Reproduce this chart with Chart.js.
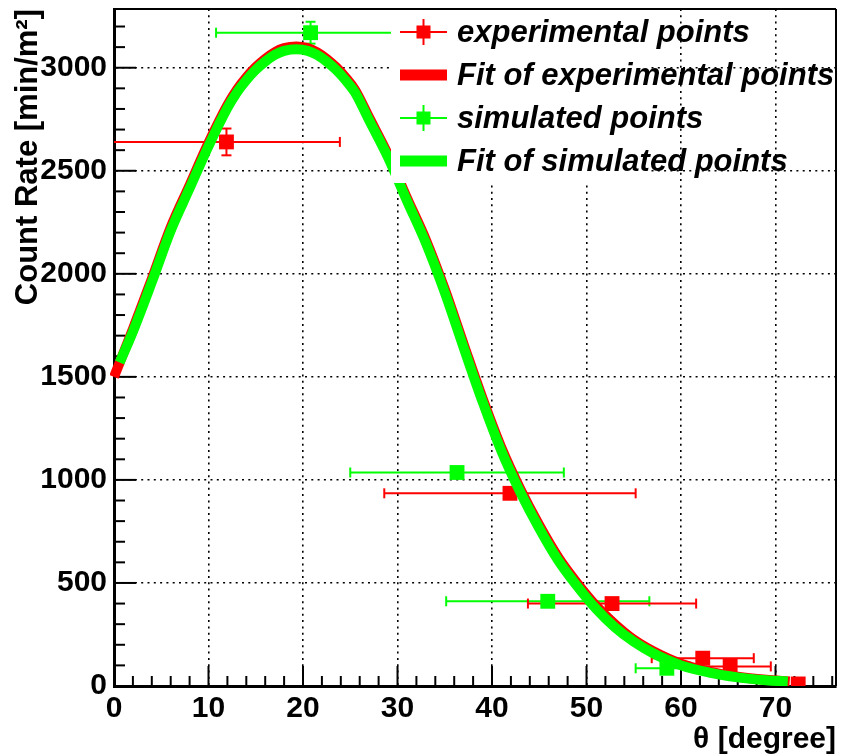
<!DOCTYPE html>
<html><head><meta charset="utf-8">
<script src="https://cdn.jsdelivr.net/npm/chart.js@4.4.1/dist/chart.umd.min.js"></script>
<style>html,body{margin:0;padding:0;background:#fff}#wrap{width:841px;height:756px;position:relative}</style>
</head><body><div id="wrap"><canvas id="c" width="841" height="756"></canvas></div>
<script>
// ---- data ----
const xTickValues = [0, 10, 20, 30, 40, 50, 60, 70];
const yTickValues = [0, 500, 1000, 1500, 2000, 2500, 3000];

const expTheta    = [11.9, 41.9, 52.7, 62.3, 65.2, 72.4];
const expRate     = [2640, 935, 400, 135, 95, 10];
const expThetaErr = [12.0, 13.3, 8.9, 5.4, 4.3, 0];
const expRateErr  = [65, 0, 0, 0, 0, 0];

const simTheta    = [20.8, 36.3, 45.9, 58.5];
const simRate     = [3170, 1036, 411, 86];
const simThetaErr = [10.0, 11.3, 10.75, 3.3];
const simRateErr  = [53, 0, 0, 25];

const expFitTheta = [0, 2, 4, 6, 8, 10, 12, 13, 14, 15, 16, 17, 18, 19.3, 20.5, 21.5, 22.5, 23.5, 24.5, 25.5, 27, 29, 31, 33, 35, 37, 39, 41, 43, 45, 47, 49, 51, 53, 55, 57, 60, 63, 66, 69, 71.5];
const expFitRate  = [1500, 1732, 1975, 2225, 2430, 2635, 2818, 2893, 2953, 3003, 3043, 3075, 3095, 3103, 3095, 3075, 3043, 3003, 2953, 2893, 2758, 2578, 2368, 2165, 1925, 1658, 1395, 1155, 955, 780, 625, 500, 390, 300, 225, 170, 108, 70, 45, 30, 22];

const simFitTheta = [0.6, 2, 4, 6, 8, 10, 12, 13, 14, 15, 16, 17, 18, 19.3, 20.5, 21.5, 22.5, 23.5, 24.5, 25.5, 27, 29, 31, 33, 35, 37, 39, 41, 43, 45, 47, 49, 51, 53, 55, 57, 60, 63, 66, 69, 71.3];
const simFitRate  = [1570, 1720, 1960, 2210, 2415, 2620, 2805, 2880, 2940, 2990, 3030, 3062, 3082, 3090, 3082, 3062, 3030, 2990, 2940, 2880, 2745, 2565, 2355, 2150, 1910, 1642, 1380, 1140, 940, 765, 610, 485, 375, 285, 215, 160, 100, 65, 42, 28, 22];

const legendLabels = ['experimental points', 'Fit of experimental points', 'simulated points', 'Fit of simulated points'];

const RED = '#ff0000', GREEN = '#00ff00';
const FONT = '"Liberation Sans", Arial, Helvetica, sans-serif';

const toXY = (xs, ys) => xs.map((x, i) => ({x, y: ys[i]}));

function line(ctx, x1, y1, x2, y2) { ctx.beginPath(); ctx.moveTo(x1, y1); ctx.lineTo(x2, y2); ctx.stroke(); }

function drawErrors(chart, xs, ys, exs, eys, color) {
  const {ctx, scales: {x, y}} = chart;
  ctx.strokeStyle = color; ctx.lineWidth = 2;
  xs.forEach((xv, i) => {
    const px = x.getPixelForValue(xv), py = y.getPixelForValue(ys[i]);
    if (exs[i] > 0) {
      const l = x.getPixelForValue(xv - exs[i]), r = x.getPixelForValue(xv + exs[i]);
      line(ctx, l, py, r, py); line(ctx, l, py - 5, l, py + 5); line(ctx, r, py - 5, r, py + 5);
    }
    if (eys[i] > 0) {
      const t = y.getPixelForValue(ys[i] + eys[i]), b = y.getPixelForValue(ys[i] - eys[i]);
      line(ctx, px, t, px, b); line(ctx, px - 5, t, px + 5, t); line(ctx, px - 5, b, px + 5, b);
    }
  });
}

function zeroPad(s) { s.paddingTop = 0; s.paddingBottom = 0; s.paddingLeft = 0; s.paddingRight = 0; }

const rootPlugin = {
  id: 'rootStyle',
  beforeDatasetsDraw(chart) {
    const {ctx, chartArea: a, scales: {x, y}} = chart;
    ctx.save();
    // inward tick marks
    ctx.strokeStyle = '#000'; ctx.lineWidth = 2;
    for (let v = 0; v <= 76; v += 2) {
      const px = x.getPixelForValue(v);
      const len = (v % 10 === 0) ? 20 : 10;
      line(ctx, px, a.bottom, px, a.bottom - len);
    }
    for (let v = 0; v <= 3200; v += 100) {
      const py = y.getPixelForValue(v);
      const len = (v % 500 === 0) ? 22 : 11;
      line(ctx, a.left, py, a.left + len, py);
    }
    // error bars
    ctx.beginPath(); ctx.rect(a.left, a.top, a.right - a.left, a.bottom - a.top); ctx.clip();
    drawErrors(chart, simTheta, simRate, simThetaErr, simRateErr, GREEN);
    drawErrors(chart, expTheta, expRate, expThetaErr, expRateErr, RED);
    ctx.restore();
  },
  afterDraw(chart) {
    const {ctx, chartArea: a} = chart;
    ctx.save();
    // frame top / right
    ctx.strokeStyle = '#000'; ctx.lineWidth = 2;
    line(ctx, a.left, a.top, a.right, a.top);
    line(ctx, a.right, a.top, a.right, a.bottom);
    // legend box (white fill, no border)
    ctx.fillStyle = '#fff';
    ctx.fillRect(391, a.top + 1, 260, 173);
    const rows = [32, 75, 118, 161];
    const x0 = 400, x1 = 447, xc = 423.5;
    // experimental points
    ctx.strokeStyle = RED; ctx.fillStyle = RED; ctx.lineWidth = 2;
    line(ctx, x0, rows[0], x1, rows[0]); line(ctx, xc, rows[0] - 13, xc, rows[0] + 13);
    ctx.fillRect(xc - 7, rows[0] - 6.5, 14, 13);
    // fit experimental
    ctx.fillRect(x0, rows[1] - 5.5, x1 - x0, 11);
    // simulated points
    ctx.strokeStyle = GREEN; ctx.fillStyle = GREEN;
    line(ctx, x0, rows[2], x1, rows[2]); line(ctx, xc, rows[2] - 13, xc, rows[2] + 13);
    ctx.fillRect(xc - 7, rows[2] - 6.5, 14, 13);
    // fit simulated
    ctx.fillRect(x0, rows[3] - 5.5, x1 - x0, 11);
    ctx.fillStyle = '#000';
    ctx.font = 'italic bold 31px ' + FONT;
    ctx.textBaseline = 'middle'; ctx.textAlign = 'left';
    legendLabels.forEach((t, i) => ctx.fillText(t, 457, rows[i] + 1));
    ctx.restore();
  }
};

const ctx = document.getElementById('c').getContext('2d');
new Chart(ctx, {
  type: 'scatter',
  data: {
    datasets: [
      { label: legendLabels[3], type: 'line', data: toXY(simFitTheta, simFitRate),
        borderColor: GREEN, borderWidth: 10, pointRadius: 0, fill: false,
        cubicInterpolationMode: 'monotone', order: 0, clip: {left: 4, top: 0, right: 0, bottom: 0} },
      { label: legendLabels[1], type: 'line', data: toXY(expFitTheta, expFitRate),
        borderColor: RED, borderWidth: 10, pointRadius: 0, fill: false,
        cubicInterpolationMode: 'monotone', order: 1, clip: {left: 4, top: 0, right: 0, bottom: 0} },
      { label: legendLabels[0], data: toXY(expTheta, expRate), pointStyle: 'rect', pointRadius: 10.5,
        backgroundColor: RED, borderWidth: 0, order: 2, clip: 0 },
      { label: legendLabels[2], data: toXY(simTheta, simRate), pointStyle: 'rect', pointRadius: 10.5,
        backgroundColor: GREEN, borderWidth: 0, order: 3, clip: 0 }
    ]
  },
  options: {
    responsive: false, animation: false, devicePixelRatio: 1,
    layout: { autoPadding: false, padding: { top: 9, right: 5, left: 0, bottom: 0 } },
    plugins: { legend: { display: false }, tooltip: { enabled: false } },
    scales: {
      x: {
        type: 'linear', min: 0, max: 76.4,
        afterBuildTicks: s => { s.ticks = xTickValues.map(v => ({value: v})); },
        afterFit: s => { s.height = 70; zeroPad(s); },
        grid: { color: c => (c.tick && c.tick.value === 0) ? 'rgba(0,0,0,0)' : '#000', lineWidth: 1.6, drawTicks: false },
        border: { display: true, color: '#000', width: 3, dash: [2, 4.3] },
        ticks: { color: '#000', font: { family: FONT, size: 30, weight: 'bold' }, padding: 5, maxRotation: 0, autoSkip: false,
                 callback: v => String(v) },
        title: { display: true, text: 'θ [degree]', align: 'end', color: '#000',
                 font: { family: FONT, size: 30, weight: 'bold', lineHeight: 1 }, padding: { top: 0, bottom: 1 } }
      },
      y: {
        type: 'linear', min: 0, max: 3285,
        afterBuildTicks: s => { s.ticks = yTickValues.map(v => ({value: v})); },
        afterFit: s => { s.width = 114; zeroPad(s); },
        grid: { color: c => (c.tick && c.tick.value === 0) ? 'rgba(0,0,0,0)' : '#000', lineWidth: 1.6, drawTicks: false },
        border: { display: true, color: '#000', width: 3, dash: [2, 4.3] },
        ticks: { color: '#000', font: { family: FONT, size: 30, weight: 'bold' }, padding: 7, autoSkip: false,
                 callback: v => String(v) },
        title: { display: true, text: 'Count Rate [min/m²]', align: 'end', color: '#000',
                 font: { family: FONT, size: 31, weight: 'bold', lineHeight: 1.2 }, padding: { top: 10, bottom: 0 } }
      }
    }
  },
  plugins: [rootPlugin]
});
</script></body></html>
